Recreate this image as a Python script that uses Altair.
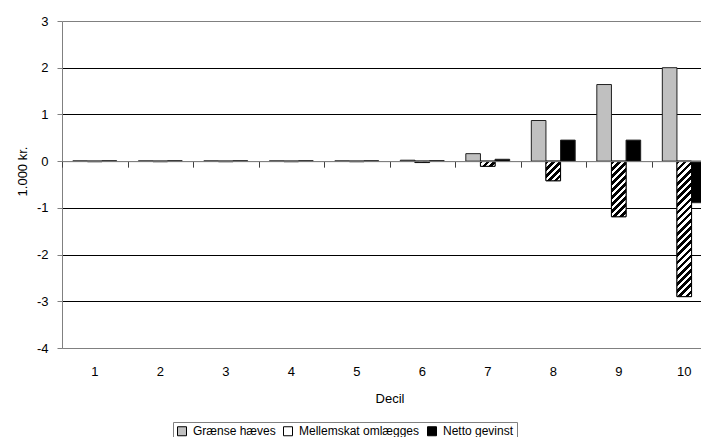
import altair as alt
import pandas as pd

# ---- data ----
deciles = [1, 2, 3, 4, 5, 6, 7, 8, 9, 10]
series = ["Grænse hæves", "Mellemskat omlægges", "Netto gevinst"]
graense = [0.005, 0.005, 0.005, 0.005, 0.005, 0.02, 0.16, 0.87, 1.64, 2.0]
mellemskat = [-0.01, -0.01, -0.01, -0.01, -0.01, -0.03, -0.11, -0.42, -1.19, -2.9]
netto = [0.008, 0.008, 0.008, 0.008, 0.008, 0.01, 0.04, 0.45, 0.45, -0.89]
y_ticks = [-4, -3, -2, -1, 0, 1, 2, 3]
colors = ["#c0c0c0", "#ffffff", "#000000"]

rows = []
for i, d in enumerate(deciles):
    for s, vals in zip(series, [graense, mellemskat, netto]):
        rows.append({"Decil": d, "Serie": s, "Værdi": vals[i]})
df = pd.DataFrame(rows)

# ---- layout ----
W_FULL = 655          # width of the full category range (the right edge is cut off)
W, H = 639, 327       # visible plot area
YMIN, YMAX = -4, 3
PX_PER_UNIT = H / (YMAX - YMIN)
STEP = W_FULL / len(deciles)
PO = 0.74
BAR_W = STEP / (3 + 2 * PO)
PERIOD = 7.0
FONT = "Liberation Sans"


def hatch(value):
    w = BAR_W
    h = max(abs(value) * PX_PER_UNIT, 1.0)
    denom = w * w + h * h
    a = w * (w + h) / denom
    b = h * (w + h) / denom
    n = max(1, round((w + h) / PERIOD))
    stops = []
    for i in range(n):
        o0, o1, o2 = i / n, (i + 0.5) / n, (i + 1) / n
        stops += [
            {"offset": o0, "color": "black"},
            {"offset": o1, "color": "black"},
            {"offset": o1, "color": "white"},
            {"offset": o2, "color": "white"},
        ]
    return {"gradient": "linear", "x1": 0, "y1": 0, "x2": a, "y2": b, "stops": stops}


x_scale = alt.Scale(paddingInner=0, paddingOuter=0, range=[0, W_FULL])
xo_scale = alt.Scale(domain=series, paddingInner=0, paddingOuter=PO)
y_scale = alt.Scale(domain=[YMIN, YMAX], nice=False)

y_axis = alt.Axis(
    values=y_ticks,
    labelExpr="'' + datum.value",
    grid=True,
    gridColor={"condition": {"test": "datum.value == 3 || datum.value == -4 || datum.value == 0",
                             "value": "#808080"}, "value": "#000000"},
    gridWidth=1,
    domainColor="#808080",
    tickColor="#808080",
    tickSize=5,
    labelPadding=9,
    labelFontSize=13,
    labelColor="black",
    title="1.000 kr.",
    titleFontSize=13,
    titleFontWeight="normal",
    titleColor="black",
    titlePadding=7,
    titleY=150,
)

zero_axis = alt.Axis(
    orient="bottom",
    offset=-(H * (0 - YMIN) / (YMAX - YMIN)),
    labels=False,
    title=None,
    grid=False,
    domainColor="#808080",
    tickColor="#404040",
    tickSize=6,
    tickBand="extent",
    zindex=1,
)

label_axis = alt.Axis(
    orient="bottom",
    ticks=False,
    grid=False,
    labelAngle=0,
    labelPadding=17,
    labelFontSize=13,
    labelColor="black",
    domainColor="#808080",
    title="Decil",
    titleFontSize=13,
    titleFontWeight="normal",
    titleColor="black",
    titlePadding=14,
)

legend = alt.Legend(
    orient="none",
    legendX=111,
    legendY=401,
    direction="horizontal",
    title=None,
    strokeColor="#808080",
    padding=3,
    symbolType="square",
    symbolSize=81,
    symbolStrokeColor="black",
    symbolStrokeWidth=1,
    labelFontSize=12,
    labelColor="black",
    labelOffset=5,
    columnPadding=5,
)

base_bars = alt.Chart(df).mark_bar(stroke="#202020", strokeWidth=1).encode(
    x=alt.X("Decil:O", scale=x_scale, axis=zero_axis),
    xOffset=alt.XOffset("Serie:N", scale=xo_scale),
    y=alt.Y("Værdi:Q", scale=y_scale, axis=y_axis),
    fill=alt.Fill("Serie:N", scale=alt.Scale(domain=series, range=colors), legend=legend),
)

layers = [base_bars]
for i, d in enumerate(deciles):
    layers.append(
        alt.Chart(df).transform_filter(
            (alt.datum.Decil == d) & (alt.datum.Serie == series[1])
        ).mark_bar(fill=hatch(mellemskat[i]), stroke="black", strokeWidth=1).encode(
            x=alt.X("Decil:O", scale=x_scale, axis=label_axis if i == 0 else None),
            xOffset=alt.XOffset("Serie:N", scale=xo_scale),
            y=alt.Y("Værdi:Q", scale=y_scale),
        )
    )

chart = alt.layer(*layers).resolve_axis(x="independent").properties(
    width=W,
    height=H,
    autosize="none",
    padding={"left": 54, "top": 13, "right": 0, "bottom": 89},
).configure(font=FONT).configure_view(stroke=None)

chart.save("out.html", embed_options={"renderer": "svg", "actions": False})
